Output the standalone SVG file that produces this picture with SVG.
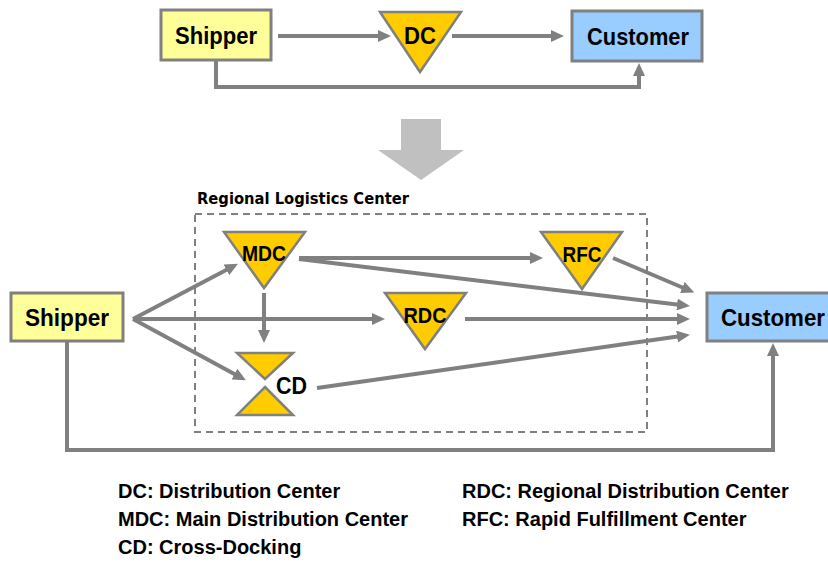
<svg xmlns="http://www.w3.org/2000/svg" width="828" height="565" viewBox="0 0 828 565">
  <style>
    .lbl { font-family: "Liberation Sans", Arial, sans-serif; font-weight: bold; fill: #000; }
    .node { font-size: 24px; text-anchor: middle; }
    .tri { font-size: 22px; text-anchor: middle; }
    .legend { font-size: 20px; }
    .box-y { fill: #ffff99; stroke: #808080; stroke-width: 3; }
    .box-b { fill: #99ccff; stroke: #808080; stroke-width: 3; }
    .hub { fill: #ffcc00; stroke: #808080; stroke-width: 2.5; stroke-linejoin: miter; }
    .edge { fill: none; stroke: #808080; stroke-width: 4; }
    .region { fill: none; stroke: #808080; stroke-width: 2; stroke-dasharray: 7 5; }
    .title { font-family: "DejaVu Sans", "Liberation Sans", sans-serif; font-weight: bold; font-size: 16px; fill: #000; }
  </style>
  <defs>
    <marker id="ah" markerUnits="userSpaceOnUse" viewBox="0 0 13 12" markerWidth="13" markerHeight="12" refX="4" refY="6" orient="auto">
      <path d="M0,0 L13,6 L0,12 Z" fill="#808080"/>
    </marker>
  </defs>

  <!-- top row: direct flow -->
  <g id="top-shipper">
    <rect class="box-y" x="161" y="10" width="110" height="50"/>
    <text class="lbl node" x="216" y="44" textLength="82" lengthAdjust="spacingAndGlyphs">Shipper</text>
  </g>
  <g id="top-dc">
    <polygon class="hub" points="380,12 461,12 420,72"/>
    <text class="lbl node" x="420" y="44" textLength="32" lengthAdjust="spacingAndGlyphs">DC</text>
  </g>
  <g id="top-customer">
    <rect class="box-b" x="572" y="11" width="130" height="50"/>
    <text class="lbl node" x="638" y="45" textLength="102" lengthAdjust="spacingAndGlyphs">Customer</text>
  </g>

  <!-- transition arrow -->
  <g id="transition">
    <polygon points="401,119 441,119 441,150 464,150 421,180 378,150 401,150" fill="#c0c0c0"/>
  </g>

  <!-- regional logistics center -->
  <g id="region">
    <rect class="region" x="195" y="214" width="452" height="218"/>
    <text class="title" x="197" y="204" textLength="212" lengthAdjust="spacingAndGlyphs">Regional Logistics Center</text>
  </g>

  <g id="shipper">
    <rect class="box-y" x="11" y="293" width="112" height="48"/>
    <text class="lbl node" x="67" y="326" textLength="84" lengthAdjust="spacingAndGlyphs">Shipper</text>
  </g>
  <g id="mdc">
    <polygon class="hub" points="224,232 305,232 264,288"/>
    <text class="lbl tri" x="264" y="261" textLength="44" lengthAdjust="spacingAndGlyphs">MDC</text>
  </g>
  <g id="rfc">
    <polygon class="hub" points="541,232 622,232 582,289"/>
    <text class="lbl tri" x="582" y="262" textLength="39" lengthAdjust="spacingAndGlyphs">RFC</text>
  </g>
  <g id="rdc">
    <polygon class="hub" points="385,293 466,293 425,349"/>
    <text class="lbl tri" x="425" y="323" textLength="43" lengthAdjust="spacingAndGlyphs">RDC</text>
  </g>
  <g id="cd">
    <polygon class="hub" points="237,353 293,353 265,379"/>
    <polygon class="hub" points="265,387 293,415 237,415"/>
    <text class="lbl" x="276" y="394" font-size="24" textLength="31" lengthAdjust="spacingAndGlyphs">CD</text>
  </g>
  <g id="customer">
    <rect class="box-b" x="707" y="293" width="132" height="48"/>
    <text class="lbl node" x="773" y="326" textLength="104" lengthAdjust="spacingAndGlyphs">Customer</text>
  </g>

  <!-- connectors -->
  <g id="connectors">
    <line class="edge" marker-end="url(#ah)" x1="278" y1="36" x2="382" y2="36"/>
    <line class="edge" marker-end="url(#ah)" x1="452" y1="36" x2="555" y2="36"/>
    <polyline class="edge" marker-end="url(#ah)" points="216,61 216,87 639,87 639,72"/>

    <line class="edge" marker-end="url(#ah)" x1="133" y1="319" x2="230" y2="268"/>
    <line class="edge" marker-end="url(#ah)" x1="133" y1="319" x2="376" y2="319"/>
    <line class="edge" marker-end="url(#ah)" x1="133" y1="319" x2="238" y2="376"/>
    <line class="edge" marker-end="url(#ah)" x1="299" y1="258" x2="534" y2="258"/>
    <line class="edge" marker-end="url(#ah)" x1="299" y1="259" x2="681" y2="305"/>
    <line class="edge" marker-end="url(#ah)" x1="264" y1="293" x2="264" y2="334"/>
    <line class="edge" marker-end="url(#ah)" x1="613" y1="258" x2="686" y2="289"/>
    <line class="edge" marker-end="url(#ah)" x1="465" y1="319" x2="681" y2="319"/>
    <line class="edge" marker-end="url(#ah)" x1="317" y1="388" x2="681" y2="336"/>
    <polyline class="edge" marker-end="url(#ah)" points="67,341 67,450 773,450 773,352"/>
  </g>

  <!-- abbreviations -->
  <g id="legend">
    <text class="lbl legend" x="118" y="498">DC: Distribution Center</text>
    <text class="lbl legend" x="118" y="526">MDC: Main Distribution Center</text>
    <text class="lbl legend" x="118" y="554">CD: Cross-Docking</text>
    <text class="lbl legend" x="462" y="498">RDC: Regional Distribution Center</text>
    <text class="lbl legend" x="462" y="526">RFC: Rapid Fulfillment Center</text>
  </g>
</svg>
